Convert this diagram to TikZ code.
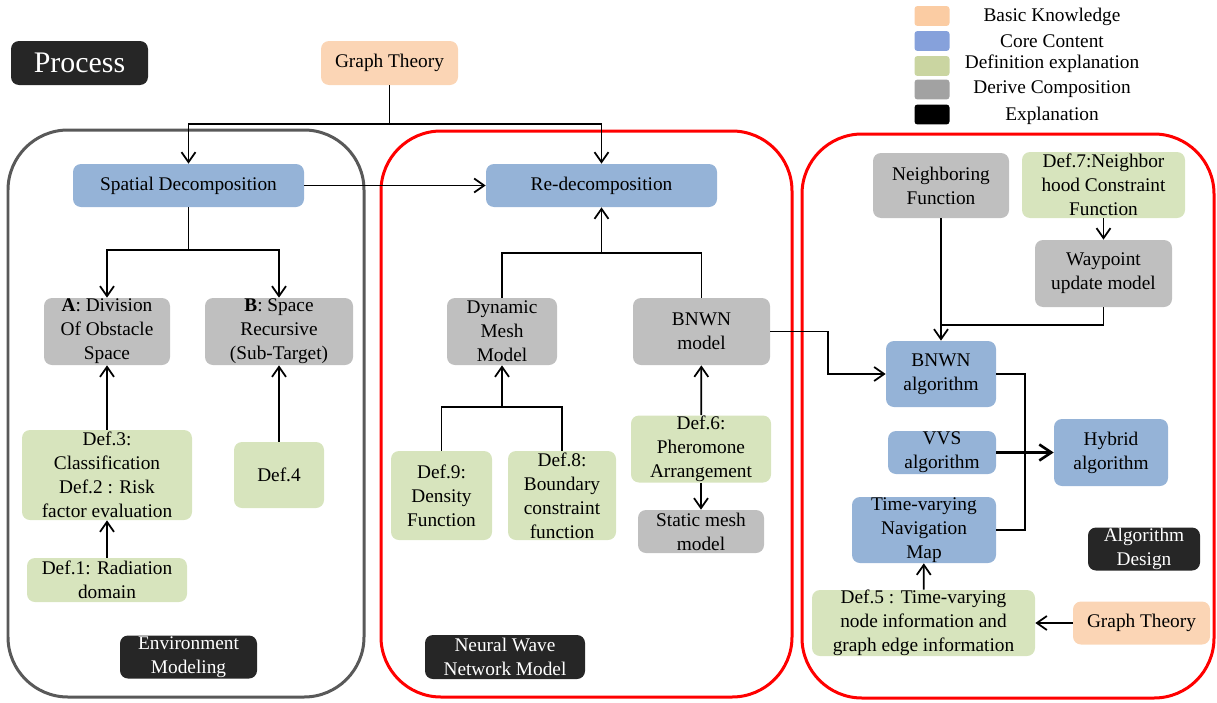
\documentclass[tikz,border=0pt]{standalone}
\usepackage{fontspec}
\setmainfont{Liberation Serif}
\usetikzlibrary{arrows.meta}

\definecolor{coreblue}{HTML}{95B3D7}
\definecolor{basicpeach}{HTML}{FBD5B5}
\definecolor{defgreen}{HTML}{D7E4BD}
\definecolor{derivegray}{HTML}{BFBFBF}
\definecolor{explblack}{HTML}{262626}
\definecolor{framegray}{HTML}{595959}
\definecolor{framered}{HTML}{FF0000}

\tikzset{
  box/.style={rounded corners=0.16cm, inner sep=0pt, align=center,
    font=\fontsize{11}{13.6}\selectfont},
  sz/.style 2 args={minimum width=#1*0.02cm, minimum height=#2*0.02cm},
  core/.style={box, fill=coreblue},
  basic/.style={box, fill=basicpeach},
  defn/.style={box, fill=defgreen},
  derive/.style={box, fill=derivegray},
  expl/.style={box, fill=explblack, text=white},
  frame/.style={line width=0.06cm, rounded corners=1.2cm},
  swatch/.style={rounded corners=0.06cm, minimum width=0.7cm, minimum height=0.4cm, inner sep=0pt},
  legtext/.style={font=\fontsize{11}{13.6}\selectfont, inner sep=0pt},
  conn/.style={line width=1pt},
}

\begin{document}
\begin{tikzpicture}[x=0.02cm,y=-0.02cm,>={Straight Barb[length=0.2cm,width=0.28cm]}]
  \useasboundingbox (0,0) rectangle (1217,703);

  % the three parts
  \draw[frame,framegray] (8,130) rectangle (364,697);
  \draw[frame,framered] (381,131) rectangle (792,697);
  \draw[frame,framered] (802,134) rectangle (1214,698);

  % legend
  \node[swatch,fill=basicpeach!90!orange] (sw1) at (932,16) {};
  \node[swatch,fill=coreblue!90!blue] (sw2) at (932,41) {};
  \node[swatch,fill=defgreen!85!olive] (sw3) at (932,66) {};
  \node[swatch,fill=derivegray!85!black] (sw4) at (932,89.5) {};
  \node[swatch,fill=black] (sw5) at (932,114.5) {};
  \node[legtext] (lg1) at (1052,17) {Basic Knowledge};
  \node[legtext] (lg2) at (1052,41) {Core Content};
  \node[legtext] (lg3) at (1052,64) {Definition explanation};
  \node[legtext] (lg4) at (1052,89) {Derive Composition};
  \node[legtext] (lg5) at (1052,116) {Explanation};

  \node[expl,sz={137}{44},font=\fontsize{17}{20}\selectfont] (process) at (79.5,63) {Process};
  \node[basic,sz={137}{44}] (gt) at (389.5,63) {Graph Theory};

  % environment modeling
  \node[core,sz={231}{43}] (spatial) at (188.5,185.5) {Spatial Decomposition};
  \node[derive,sz={126}{67}] (divA) at (107,331.5) {\textbf{A}: Division\\Of Obstacle\\Space};
  \node[derive,sz={148}{67}] (recB) at (279,331.5) {\textbf{B}: Space\\Recursive\\(Sub-Target)};
  \node[defn,sz={170}{90}] (def3) at (107,475) {Def.3:\\Classification\\Def.2 : Risk\\factor evaluation};
  \node[defn,sz={90}{66}] (def4) at (279,475) {Def.4};
  \node[defn,sz={160}{44}] (def1) at (107,580) {Def.1: Radiation\\domain};
  \node[expl,sz={137}{43}] (envmod) at (188.5,657) {Environment\\Modeling};

  % neural wave network model
  \node[core,sz={231}{43}] (redec) at (601.5,185.5) {Re-decomposition};
  \node[derive,sz={110}{67}] (dmm) at (502,331.5) {Dynamic\\Mesh\\Model};
  \node[derive,sz={137}{67}] (bnwnm) at (701.5,331.5) {BNWN\\model};
  \node[defn,sz={101}{89}] (def9) at (441.5,495.5) {Def.9:\\Density\\Function};
  \node[defn,sz={108}{89}] (def8) at (562,495.5) {Def.8:\\Boundary\\constraint\\function};
  \node[defn,sz={140}{67}] (def6) at (701,449) {Def.6:\\Pheromone\\Arrangement};
  \node[derive,sz={126}{43}] (static) at (701,531.5) {Static mesh\\model};
  \node[expl,sz={160}{44}] (nwn) at (505,657) {Neural Wave\\Network Model};

  % algorithm design
  \node[derive,sz={136}{65}] (neigh) at (941,185.5) {Neighboring\\Function};
  \node[defn,sz={163}{66}] (def7) at (1103.5,185) {Def.7:Neighbor\\hood Constraint\\Function};
  \node[derive,sz={137}{67}] (waypt) at (1103.5,273.5) {Waypoint\\update model};
  \node[core,sz={110}{66}] (bnwna) at (941,374) {BNWN\\algorithm};
  \node[core,sz={108}{43}] (vvs) at (942,452.5) {VVS\\algorithm};
  \node[core,sz={114}{67}] (hybrid) at (1111,452.5) {Hybrid\\algorithm};
  \node[core,sz={144}{66}] (tvnm) at (924,530) {Time-varying\\Navigation\\Map};
  \node[expl,sz={112}{43}] (algdes) at (1144,549) {Algorithm\\Design};
  \node[defn,sz={223}{66}] (def5) at (923.5,623) {Def.5 : Time-varying\\node information and\\graph edge information};
  \node[basic,sz={137}{43}] (gt2) at (1141.5,623) {Graph Theory};

  % junctions
  \coordinate (gtbar) at (389.5,124);
  \coordinate (spbar) at (188.5,250);
  \coordinate (mjoin) at (601.5,253);
  \coordinate (djoin) at (502,407);
  \coordinate (wjoin) at (941,325);
  \coordinate (bbend) at (828,331.5);
  \coordinate (hbar) at (1025,452.5);

  % connectors
  \draw[conn] (gt) -- (gtbar);
  \draw[conn,->] (gtbar) -| (spatial);
  \draw[conn,->] (gtbar) -| (redec);
  \draw[conn,->] (spatial) -- (redec);
  \draw[conn] (spatial) -- (spbar);
  \draw[conn,->] (spbar) -| (divA);
  \draw[conn,->] (spbar) -| (recB);
  \draw[conn,->] (def3) -- (divA);
  \draw[conn,->] (def4) -- (recB);
  \draw[conn,->] (def1) -- (def3);

  \draw[conn] (dmm.north) |- (mjoin) -| (bnwnm.north);
  \draw[conn,->] (mjoin) -- (redec);
  \draw[conn] (def9.north) |- (djoin) -| (def8.north);
  \draw[conn,->] (djoin) -- (dmm);
  \draw[conn,->] (def6) -- (bnwnm);
  \draw[conn,->] (def6) -- (static);

  \draw[conn,->] (bnwnm) -- (bbend) |- (bnwna);
  \draw[conn,->] (neigh) -- (bnwna);
  \draw[conn,->] (def7) -- (waypt);
  \draw[conn] (waypt) |- (wjoin);
  \draw[conn] (bnwna) -| (hbar) |- (tvnm);
  \draw[line width=1.5pt,-{Straight Barb[length=0.24cm,width=0.32cm]}] (vvs) -- (hybrid);
  \draw[conn,->] (def5) -- (tvnm);
  \draw[conn,->] (gt2) -- (def5);
\end{tikzpicture}
\end{document}
